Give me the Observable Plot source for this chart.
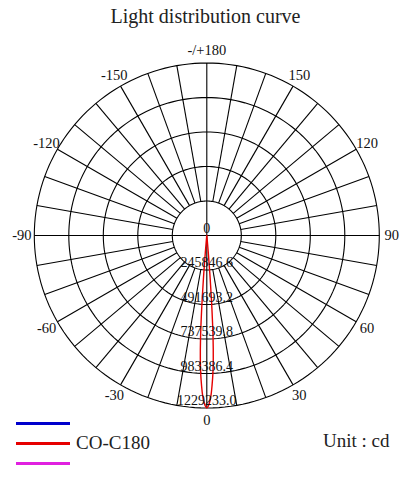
<!DOCTYPE html>
<html>
<head>
<meta charset="utf-8">
<script src="https://cdn.jsdelivr.net/npm/d3@7"></script>
<script src="https://cdn.jsdelivr.net/npm/@observablehq/plot@0.6"></script>
<style>
  html, body { margin: 0; padding: 0; background: #fff; }
  #wrap { position: relative; width: 410px; height: 478px; overflow: hidden; font-family: "Liberation Serif", "Times New Roman", serif; }
  #legend { position: absolute; left: 16px; top: 413px; }
  .row { height: 20px; display: flex; align-items: center; }
  .sw { display: inline-block; width: 54px; height: 3px; }
  .lab { font-size: 19px; margin-left: 6px; color: #222; }
  #unit { position: absolute; left: 323px; top: 430px; font-size: 19px; color: #222; }
</style>
</head>
<body>
<div id="wrap"></div>
<script>
const title = "Light distribution curve";
const angleTicks  = [0, 30, 60, 90, 120, 150, 180, -150, -120, -90, -60, -30];
const angleLabels = ["0", "30", "60", "90", "120", "150", "-/+180", "-150", "-120", "-90", "-60", "-30"];
const ringValues = [0, 245846.6, 491693.2, 737539.8, 983386.4, 1229233.0];
const ringLabels = ["0", "245846.6", "491693.2", "737539.8", "983386.4", "1229233.0"];
// C0-C180 plane, gamma angle (deg) and intensity (cd)
const curveAngles = [-9, -7, -6, -5, -4.5, -4, -3.5, -3, -2.5, -2, -1.5, -1, -0.5, 0, 0.5, 1, 1.5, 2, 2.5, 3, 3.5, 4, 4.5, 5, 6, 7, 9];
const curveC0C180 = [0, 0, 20000, 120000, 300000, 520000, 730000, 880000, 990000, 1070000, 1140000, 1185000, 1215000, 1229233, 1215000, 1185000, 1140000, 1070000, 990000, 880000, 730000, 520000, 300000, 120000, 20000, 0, 0];
const legendNames  = ["", "CO-C180", ""];
const legendColors = ["#0000cc", "#e60000", "#e020e0"];
const unitLabel = "Unit : cd";

const W = 410, H = 478;
const cx = 206.3, cy = 235, Rpx = 172.5;
const Imax = ringValues[ringValues.length - 1];
const k = Rpx / Imax; // px per cd
const rad = d => d * Math.PI / 180;
const px = (r, a) => r * Math.sin(rad(a));
const py = (r, a) => r * Math.cos(rad(a));

// rings
const ringPts = [];
ringValues.slice(1).forEach(v => {
  for (let a = 0; a <= 360; a += 2) ringPts.push({ring: v, x: px(v, a), y: py(v, a)});
});
// spokes
const spokes = [];
for (let a = 0; a < 360; a += 10) {
  const full = a % 90 === 0;
  spokes.push({a, r1: full ? 0 : ringValues[1], r2: Imax});
}
const curvePts = curveAngles.map((a, i) => ({x: px(curveC0C180[i], a), y: py(curveC0C180[i], a)}));
const labR = 185 / k;
const serif = "Liberation Serif, Times New Roman, serif";

const chart = Plot.plot({
  width: W, height: H, margin: 0,
  x: {domain: [-cx / k, (W - cx) / k], range: [0, W], axis: null},
  y: {domain: [-cy / k, (H - cy) / k], range: [0, H], axis: null},
  style: {fontFamily: serif, background: "#fff"},
  marks: [
    Plot.line(ringPts, {x: "x", y: "y", z: "ring", stroke: "#000", strokeWidth: 1.1}),
    Plot.link(spokes, {
      x1: d => px(d.r1, d.a), y1: d => py(d.r1, d.a),
      x2: d => px(d.r2, d.a), y2: d => py(d.r2, d.a),
      stroke: "#000", strokeWidth: 1.1
    }),
    Plot.line(curvePts, {x: "x", y: "y", stroke: "#e60000", strokeWidth: 1.4, curve: "catmull-rom"}),
    Plot.text(angleTicks, {
      x: a => px(labR, a), y: a => py(labR, a),
      text: (a, i) => angleLabels[i], fontSize: 14.5, fill: "#111", fontFamily: serif
    }),
    Plot.text(ringValues, {
      x: 0, y: v => v, text: (v, i) => ringLabels[i],
      dy: -7, fontSize: 14, fill: "#111", fontFamily: serif,
      style: "letter-spacing:1px"
    }),
    Plot.text([title], {frameAnchor: "top", dy: 16, lineAnchor: "middle", fontSize: 20, fill: "#222", fontFamily: serif})
  ]
});
const wrap = document.getElementById("wrap");
wrap.appendChild(chart);

const legend = document.createElement("div");
legend.id = "legend";
legendNames.forEach((n, i) => {
  const row = document.createElement("div");
  row.className = "row";
  const sw = document.createElement("span");
  sw.className = "sw";
  sw.style.background = legendColors[i];
  row.appendChild(sw);
  if (n) {
    const t = document.createElement("span");
    t.className = "lab";
    t.textContent = n;
    row.appendChild(t);
  }
  legend.appendChild(row);
});
wrap.appendChild(legend);
const unit = document.createElement("div");
unit.id = "unit";
unit.textContent = unitLabel;
wrap.appendChild(unit);
</script>
</body>
</html>
